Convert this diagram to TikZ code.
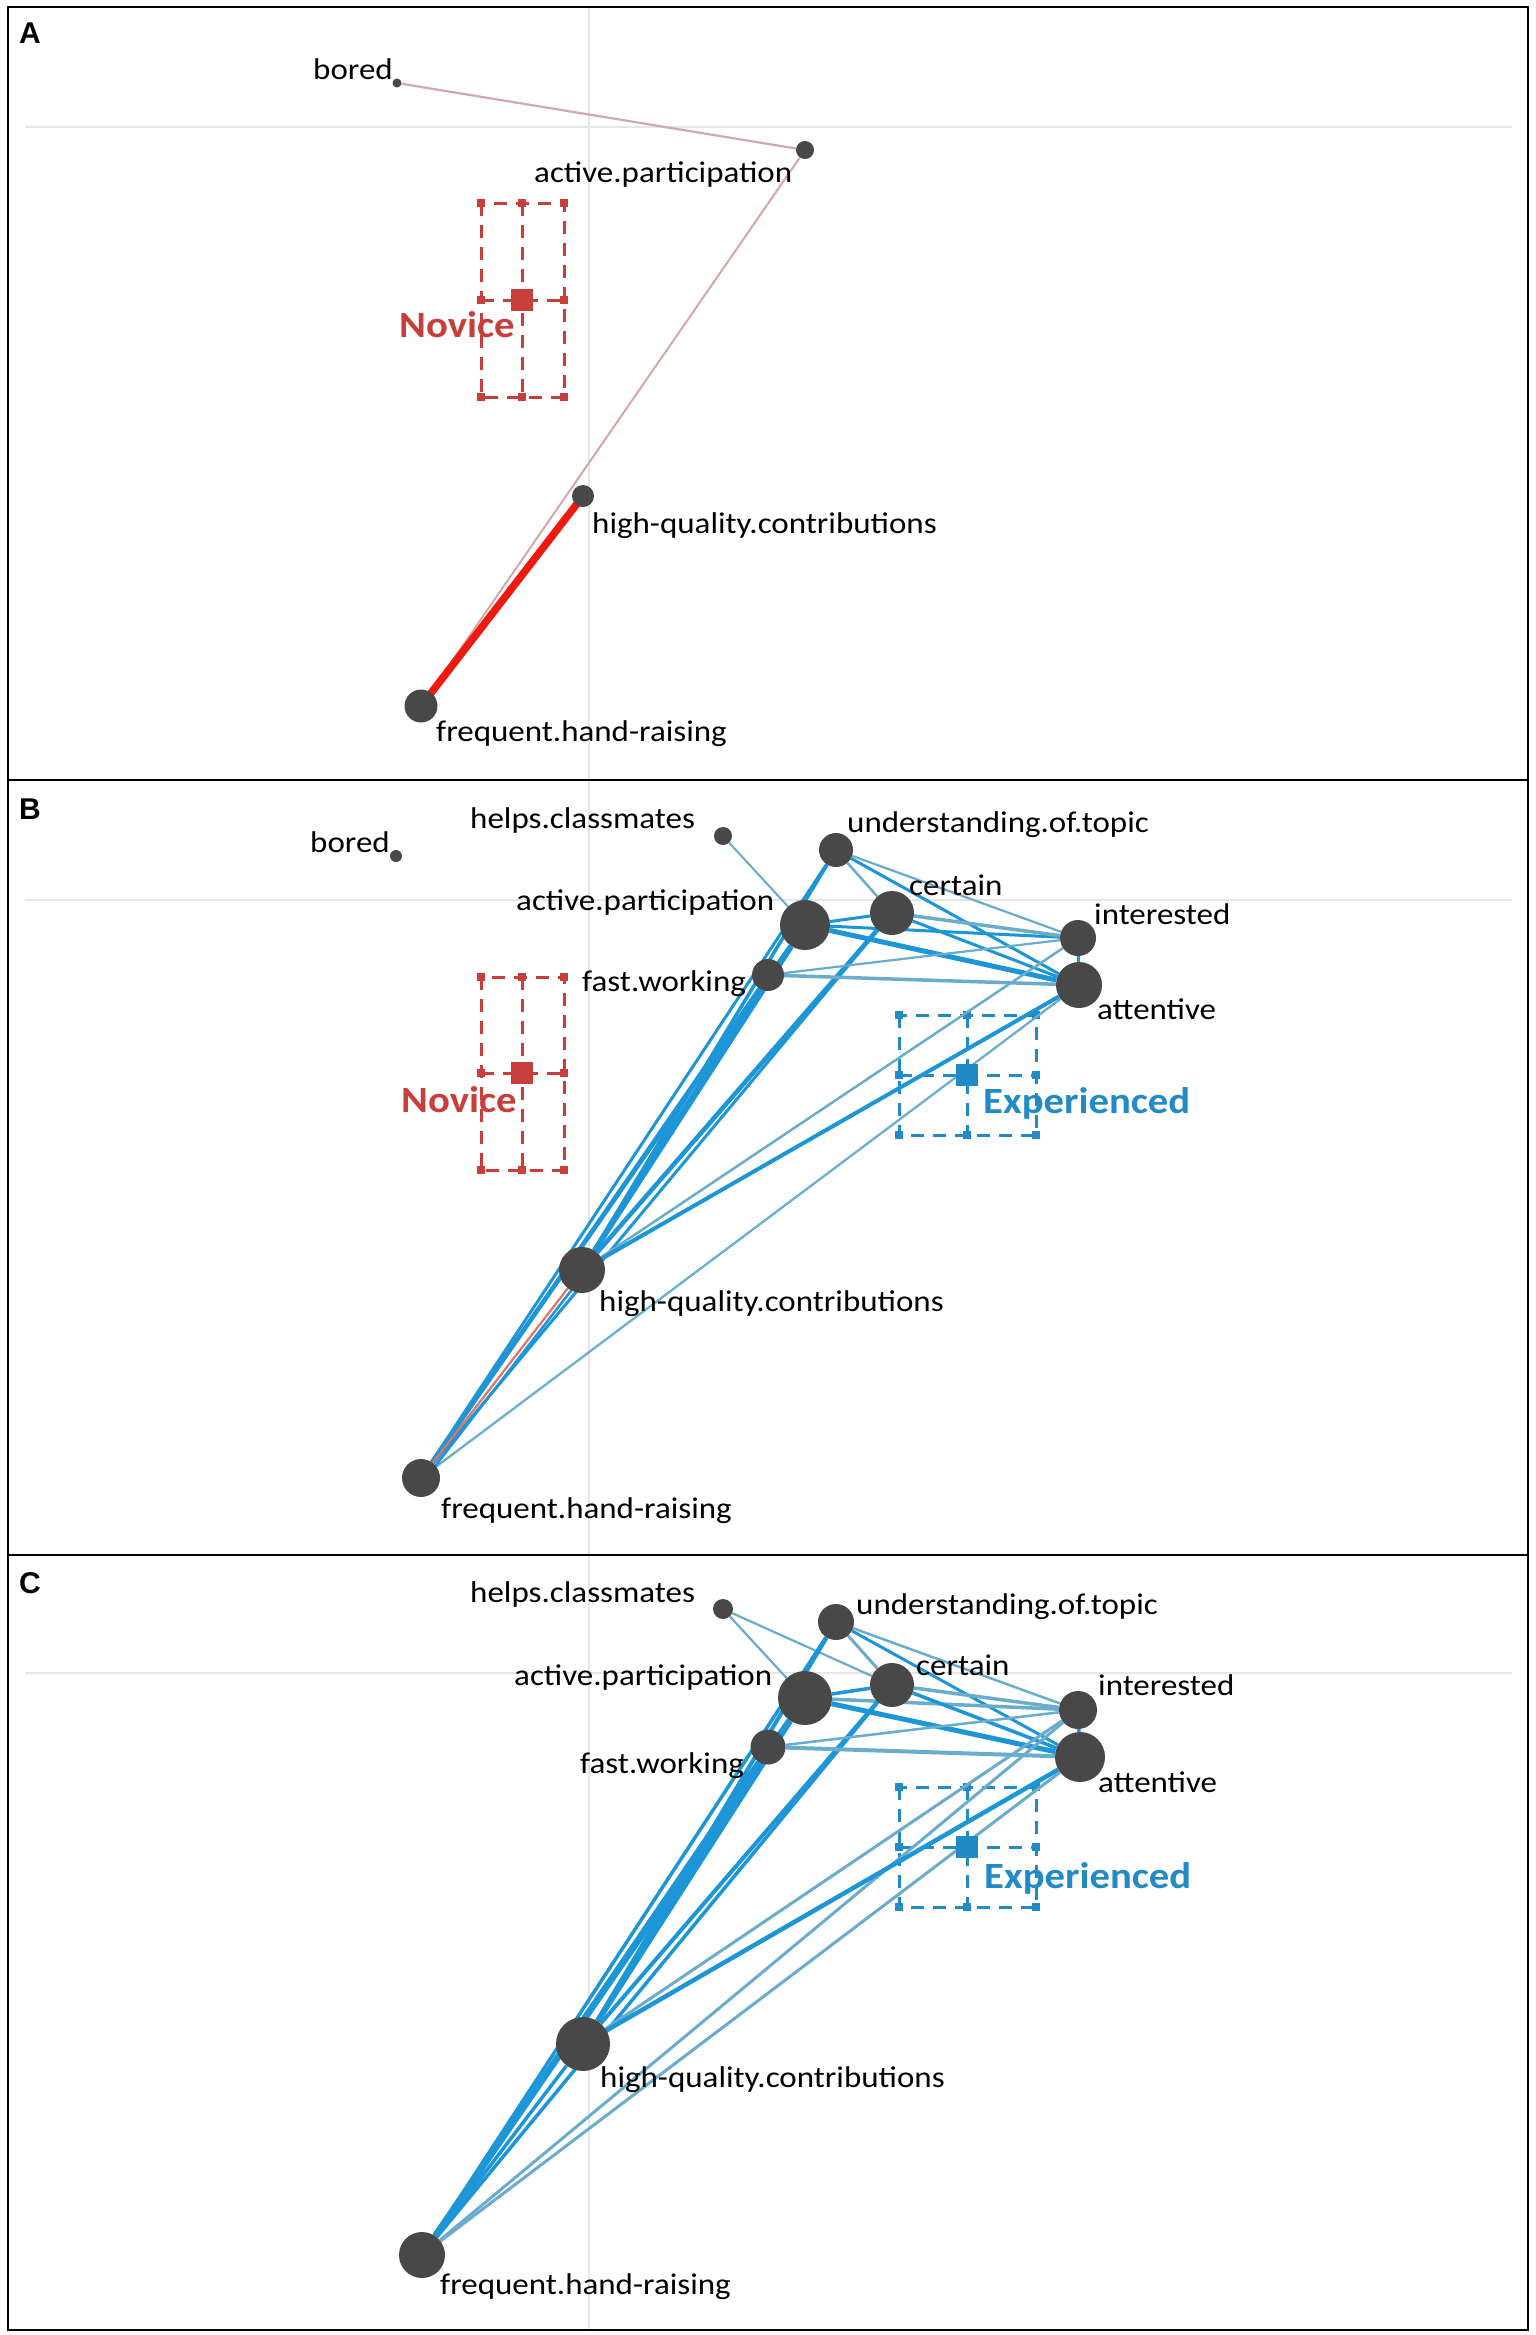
\documentclass[tikz,border=0pt]{standalone}
\usepackage{fontspec}
\usepackage{graphicx}
\setmainfont{Carlito}
\newfontfamily\panelfont{Liberation Sans}
\definecolor{nodegray}{RGB}{72,72,72}
\definecolor{enablue}{RGB}{28,150,215}
\definecolor{enablueL}{RGB}{105,172,205}
\definecolor{novred}{RGB}{200,62,58}
\definecolor{exblue}{RGB}{34,138,198}
\definecolor{rosy}{RGB}{212,168,168}
\definecolor{edgered}{RGB}{240,25,15}
\definecolor{salmon}{RGB}{228,115,100}
\definecolor{gridgray}{RGB}{230,230,230}
\newcommand{\sx}[1]{\scalebox{1.1}[1]{#1}}
\pgfdeclarelayer{gridlayer}
\pgfdeclarelayer{edgelayer}
\pgfsetlayers{gridlayer,edgelayer,main}
\tikzset{
  enadot/.style={circle, fill=nodegray, inner sep=0pt, minimum size=#1},
  lab/.style={anchor=base west, inner sep=0pt, font=\fontsize{30}{30}\selectfont, text=black},
  grp/.style={anchor=base west, inner sep=0pt, font=\fontsize{37}{37}\selectfont\bfseries},
  plet/.style={anchor=base west, inner sep=0pt, font=\panelfont\bfseries\fontsize{30}{30}\selectfont},
  meansq/.style={rectangle, fill=#1, inner sep=0pt, minimum size=22pt},
  e/.style={draw=enablue, line width=#1pt},
  el/.style={draw=enablueL, line width=#1pt},
  cidash/.style={draw=#1, line width=3pt, dash pattern=on 13pt off 9pt},
  gridline/.style={draw=gridgray, line width=1.8pt},
  frame/.style={draw=black, line width=2.5pt}
}
% color, xl, xm, xr, yt, ym, yb
\newcommand{\cibox}[7]{%
  \draw[cidash=#1] (#2,#5) rectangle (#4,#7);
  \draw[cidash=#1] (#3,#5) -- (#3,#7);
  \draw[cidash=#1] (#2,#6) -- (#4,#6);
  \foreach \mx in {#2,#3,#4}{\foreach \my in {#5,#6,#7}{
    \fill[#1] (\mx-4,\my-4) rectangle (\mx+4,\my+4);}}%
}
\begin{document}
\begin{tikzpicture}[x=1pt,y=-1pt]
\useasboundingbox (0,0) rectangle (1535,2335);

% ---------------- grid lines and CI boxes
\begin{pgfonlayer}{gridlayer}
\fill[white] (0,0) rectangle (1535,2335);
\draw[gridline] (589,7) -- (589,2330);
\draw[gridline] (25,127) -- (1512,127);
\draw[gridline] (25,900) -- (1512,900);
\draw[gridline] (25,1673) -- (1512,1673);
\cibox{novred}{481}{522}{564}{203}{300}{397}
\cibox{novred}{481}{522}{564}{977}{1073}{1170}
\cibox{exblue}{899}{967}{1036}{1015}{1075}{1135}
\cibox{exblue}{899}{967}{1036}{1787}{1847}{1907}
\end{pgfonlayer}

% ---------------- frame
\draw[frame] (8,7) rectangle (1528,2330);
\draw[frame] (8,780) -- (1528,780);
\draw[frame] (8,1555) -- (1528,1555);
\node[plet] (pA) at (19,43) {A};
\node[plet] (pB) at (19,819) {B};
\node[plet] (pC) at (19,1593) {C};

% ================= Panel A
\node[enadot=9pt]  (aBO) at (397,83) {};
\node[enadot=18pt] (aAP) at (805,150) {};
\node[enadot=22pt] (aHQ) at (583,496) {};
\node[enadot=33pt] (aFH) at (421,706) {};
\node[lab] (laBO) at (313,79) {\sx{bored}};
\node[lab] (laAP) at (534,182) {\sx{active.participation}};
\node[lab] (laHQ) at (592,533) {\sx{high-quality.contributions}};
\node[lab] (laFH) at (436,741) {\sx{frequent.hand-raising}};
\node[meansq=novred] (aNov) at (522,300) {};
\node[grp, text=novred] (laNov) at (399,337) {\sx{Novice}};
\begin{pgfonlayer}{edgelayer}
\draw[draw=rosy, line width=2.2pt] (aBO) -- (aAP);
\draw[draw=rosy, line width=2pt] (aAP) -- (aFH);
\draw[draw=edgered, line width=7.5pt] (aHQ.center) -- (aFH.center);
\end{pgfonlayer}

% ================= Panel B
\node[enadot=12pt] (bBO) at (396,856) {};
\node[enadot=18pt] (bHC) at (723,836) {};
\node[enadot=34pt] (bUT) at (836,850) {};
\node[enadot=50pt] (bAP) at (805,925) {};
\node[enadot=44pt] (bCE) at (892,913) {};
\node[enadot=36pt] (bIN) at (1078,938) {};
\node[enadot=46pt] (bAT) at (1079,985) {};
\node[enadot=32pt] (bFW) at (768,975) {};
\node[enadot=46pt] (bHQ) at (582,1270) {};
\node[enadot=38pt] (bFH) at (421,1478) {};
\node[lab] (lbBO) at (310,852) {\sx{bored}};
\node[lab] (lbHC) at (470,828) {\sx{helps.classmates}};
\node[lab] (lbUT) at (847,832) {\sx{understanding.of.topic}};
\node[lab] (lbCE) at (909,895) {\sx{certain}};
\node[lab] (lbAP) at (516,910) {\sx{active.participation}};
\node[lab] (lbIN) at (1094,924) {\sx{interested}};
\node[lab] (lbFW) at (582,991) {\sx{fast.working}};
\node[lab] (lbAT) at (1097,1019) {\sx{attentive}};
\node[lab] (lbHQ) at (599,1311) {\sx{high-quality.contributions}};
\node[lab] (lbFH) at (441,1518) {\sx{frequent.hand-raising}};
\node[meansq=novred] (bNov) at (522,1073) {};
\node[grp, text=novred] (lbNov) at (401,1112) {\sx{Novice}};
\node[meansq=exblue] (bExp) at (967,1075) {};
\node[grp, text=exblue] (lbExp) at (983,1113) {\sx{Experienced}};
\begin{pgfonlayer}{edgelayer}
\draw[el=2] (bHC) -- (bAP);
\draw[el=2.5] (bUT) -- (bCE);
\draw[el=2.2] (bUT) -- (bIN);
\draw[e=3] (bUT) -- (bAT);
\draw[e=3.5] (bUT) -- (bHQ);
\draw[e=3] (bUT) -- (bFH);
\draw[e=3] (bAP) -- (bCE);
\draw[e=3] (bAP) -- (bIN);
\draw[e=5] (bAP) -- (bAT);
\draw[e=5.5] (bAP) -- (bHQ);
\draw[e=4.5] (bAP) -- (bFH);
\draw[el=3.5] (bCE) -- (bIN);
\draw[e=3] (bCE) -- (bAT);
\draw[e=4.5] (bCE) -- (bHQ);
\draw[e=3] (bCE) -- (bFH);
\draw[el=2.2] (bFW) -- (bIN);
\draw[el=3.5] (bFW) -- (bAT);
\draw[e=3.5] (bFW) -- (bHQ);
\draw[e=3] (bFW) -- (bFH);
\draw[e=3] (bIN) -- (bAT);
\draw[el=2.5] (bIN) -- (bHQ);
\draw[e=4] (bAT) -- (bHQ);
\draw[el=2.2] (bAT) -- (bFH);
\draw[e=2.5] ([xshift=5pt]bHQ.center) -- ([xshift=5pt]bFH.center);
\draw[draw=salmon, line width=2.2pt] (bHQ.center) -- (bFH.center);
\end{pgfonlayer}

% ================= Panel C
\node[enadot=20pt] (cHC) at (723,1609) {};
\node[enadot=36pt] (cUT) at (836,1622) {};
\node[enadot=54pt] (cAP) at (805,1698) {};
\node[enadot=44pt] (cCE) at (892,1685) {};
\node[enadot=38pt] (cIN) at (1078,1710) {};
\node[enadot=50pt] (cAT) at (1080,1757) {};
\node[enadot=35pt] (cFW) at (768,1747) {};
\node[enadot=54pt] (cHQ) at (583,2044) {};
\node[enadot=46pt] (cFH) at (422,2255) {};
\node[lab] (lcHC) at (470,1602) {\sx{helps.classmates}};
\node[lab] (lcUT) at (856,1614) {\sx{understanding.of.topic}};
\node[lab] (lcCE) at (916,1675) {\sx{certain}};
\node[lab] (lcAP) at (514,1685) {\sx{active.participation}};
\node[lab] (lcIN) at (1098,1695) {\sx{interested}};
\node[lab] (lcFW) at (580,1773) {\sx{fast.working}};
\node[lab] (lcAT) at (1098,1792) {\sx{attentive}};
\node[lab] (lcHQ) at (600,2087) {\sx{high-quality.contributions}};
\node[lab] (lcFH) at (440,2294) {\sx{frequent.hand-raising}};
\node[meansq=exblue] (cExp) at (967,1847) {};
\node[grp, text=exblue] (lcExp) at (984,1888) {\sx{Experienced}};
\begin{pgfonlayer}{edgelayer}
\draw[el=2.2] (cHC) -- (cAP);
\draw[el=2.2] (cHC) -- (cCE);
\draw[el=3] (cUT) -- (cCE);
\draw[el=2.5] (cUT) -- (cIN);
\draw[e=3] (cUT) -- (cAT);
\draw[e=4] (cUT) -- (cHQ);
\draw[e=3.5] (cUT) -- (cFH);
\draw[e=3.5] (cAP) -- (cCE);
\draw[el=3.5] (cAP) -- (cIN);
\draw[e=5] (cAP) -- (cAT);
\draw[e=5.5] (cAP) -- (cHQ);
\draw[e=6.5] (cAP) -- (cFH);
\draw[el=3.5] (cCE) -- (cIN);
\draw[e=3.5] (cCE) -- (cAT);
\draw[e=4] (cCE) -- (cHQ);
\draw[e=3.5] (cCE) -- (cFH);
\draw[el=2.5] (cFW) -- (cIN);
\draw[el=4] (cFW) -- (cAT);
\draw[e=4] (cFW) -- (cHQ);
\draw[e=4] (cFW) -- (cFH);
\draw[e=3.5] (cIN) -- (cAT);
\draw[el=3] (cIN) -- (cHQ);
\draw[el=3] (cIN) -- (cFH);
\draw[e=4.5] (cAT) -- (cHQ);
\draw[el=3] (cAT) -- (cFH);
\draw[e=3.5] (cHQ) -- (cFH);
\end{pgfonlayer}
\end{tikzpicture}
\end{document}
